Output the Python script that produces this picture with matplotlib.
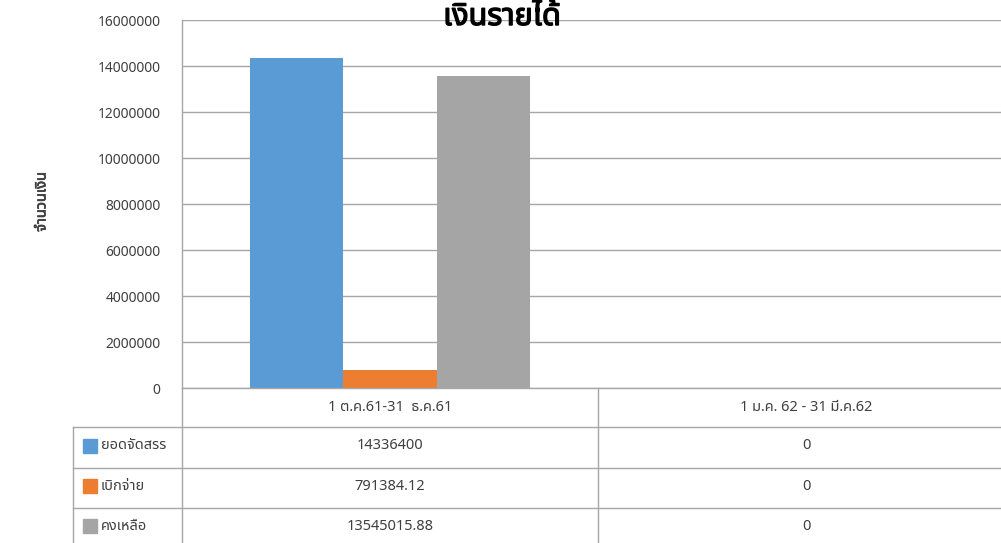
import matplotlib
matplotlib.use("Agg")
import matplotlib.pyplot as plt
from matplotlib import font_manager
from matplotlib.ft2font import FT2Font
import matplotlib.patheffects as pe
import numpy as np

# ---------------- data ----------------
categories = ["1 ต.ค.61-31  ธ.ค.61", "1 ม.ค. 62 - 31 มี.ค.62"]
series_names = ["ยอดจัดสรร", "เบิกจ่าย", "คงเหลือ"]
allocated = [14336400, 0]
disbursed = [791384.12, 0]
remaining = [13545015.88, 0]
series_colors = ["#5B9BD5", "#ED7D31", "#A5A5A5"]
title = "เงินรายได้"
ylabel = "จำนวนเงิน"
yticks = [0, 2000000, 4000000, 6000000, 8000000, 10000000, 12000000, 14000000, 16000000]

# ------------- font with Thai glyphs -------------
thai_family = None
preferred = ["Noto Sans Thai", "Noto Sans", "DejaVu Sans", "Liberation Sans"]
cands = {}
for f in font_manager.fontManager.ttflist:
    try:
        cm = FT2Font(f.fname).get_charmap()
    except Exception:
        continue
    if 0x0E01 in cm and 0x0E07 in cm:
        cands.setdefault(f.name, f.fname)
for p in preferred:
    if p in cands:
        thai_family = p
        break
if thai_family is None and cands:
    thai_family = sorted(cands)[0]
fams = ([thai_family] if thai_family else []) + ["DejaVu Sans"]
plt.rcParams["font.family"] = fams

W, H = 1001, 543
fig = plt.figure(figsize=(W / 100, H / 100), dpi=100)

def fx(px):
    return px / W

def fy(py):
    return 1 - py / H

# ---------------- chart axes ----------------
ax_left, ax_right, ax_top, ax_bot = 182, 1014, 20, 388
ax = fig.add_axes([fx(ax_left), fy(ax_bot), fx(ax_right - ax_left), (ax_bot - ax_top) / H])
series = [allocated, disbursed, remaining]
n = len(series)
x = np.arange(len(categories))
bw = 0.224
for i, (vals, col) in enumerate(zip(series, series_colors)):
    ax.bar(x + (i - (n - 1) / 2) * bw, vals, width=bw, color=col, zorder=3)
ax.set_xlim(-0.5, len(categories) - 0.5)
ax.set_ylim(0, 16000000)
ax.set_yticks(yticks)
ax.set_yticklabels([str(t) for t in yticks], fontsize=10, color="#404040")
ax.tick_params(axis="y", length=0, pad=15.5)
ax.set_xticks([])
ax.grid(axis="y", color="#A6A6A6", linewidth=1, zorder=0)
for s in ["top", "right", "bottom"]:
    ax.spines[s].set_visible(False)
ax.spines["left"].set_color("#A6A6A6")
ax.spines["left"].set_linewidth(1)

bold_fx = [pe.withStroke(linewidth=1.0, foreground="#000000")]
fig.text(fx(502), fy(25), title, ha="center", va="baseline", fontsize=22,
         fontweight="bold", color="#000000", path_effects=bold_fx)
fig.text(fx(42), fy(202), ylabel, ha="center", va="center", rotation=90,
         fontsize=10.5, fontweight="bold", color="#404040",
         path_effects=[pe.withStroke(linewidth=0.5, foreground="#404040")])

# ---------------- data table ----------------
tab = fig.add_axes([0, 0, 1, 1], facecolor="none")
tab.set_xlim(0, W)
tab.set_ylim(H, 0)
tab.axis("off")
lc = "#A6A6A6"
rows_y = [388, 427, 468, 508, 548]
col_x = [73, 182, 598, 1014]
tab.plot([182, W], [rows_y[0], rows_y[0]], color=lc, lw=1)
for yy in rows_y[1:4]:
    tab.plot([73, W], [yy, yy], color=lc, lw=1)
tab.plot([73, 73], [rows_y[1], H], color=lc, lw=1)
for xx in col_x[1:3]:
    tab.plot([xx, xx], [rows_y[0], H], color=lc, lw=1)

def fmt(v):
    if float(v).is_integer():
        return str(int(v))
    return f"{v:.2f}"

for j, cat in enumerate(categories):
    cx = (col_x[j + 1] + col_x[j + 2]) / 2
    tab.text(cx, (rows_y[0] + rows_y[1]) / 2, cat, ha="center", va="center",
             fontsize=10.5, color="#404040")
for i, (name, vals, col) in enumerate(zip(series_names, series, series_colors)):
    yc = (rows_y[i + 1] + rows_y[i + 2]) / 2 - 2
    tab.add_patch(plt.Rectangle((83, yc - 7), 14, 14, color=col))
    tab.text(101, yc, name, ha="left", va="center", fontsize=10.5, color="#404040")
    for j, v in enumerate(vals):
        cx = (col_x[j + 1] + col_x[j + 2]) / 2
        tab.text(cx, yc, fmt(v), ha="center", va="center", fontsize=10.5, color="#404040")

fig.savefig("out.png", dpi=100)
